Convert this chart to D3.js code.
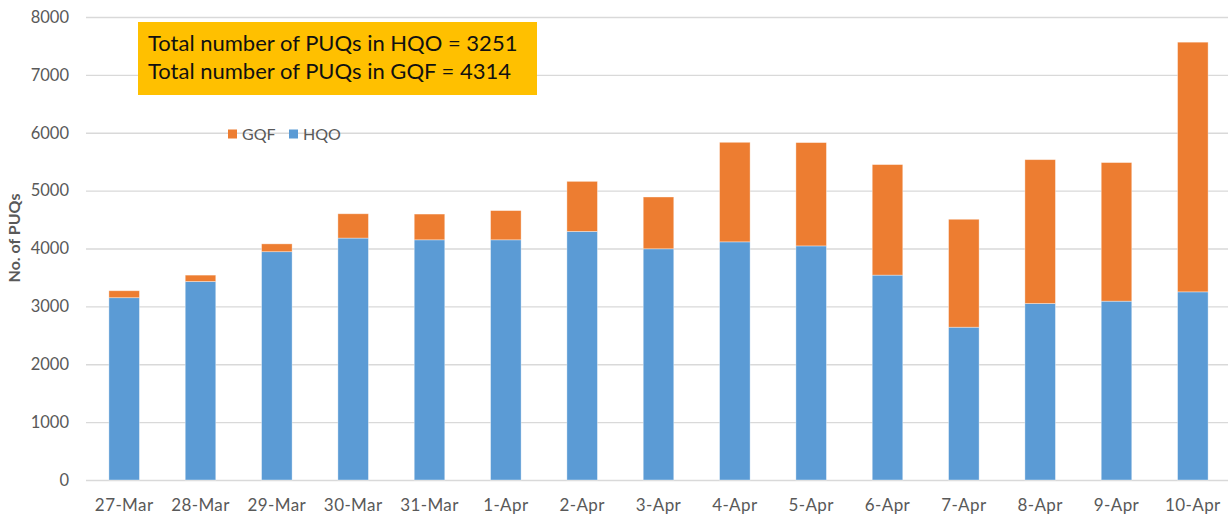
<!DOCTYPE html>
<html lang="en">

<head>
  <title></title>
  <meta charset="UTF-8">
  <style>
    body {
      margin: 0;
      background: #fff;
    }
    text {
      font-family: Lato, "Open Sans", sans-serif;
    }
  </style>
</head>

<body>
  <div id="container"></div>
  <script src="https://cdn.jsdelivr.net/npm/d3@7"></script>
  <script>
    const days = ['27-Mar', '28-Mar', '29-Mar', '30-Mar', '31-Mar', '1-Apr', '2-Apr', '3-Apr',
      '4-Apr', '5-Apr', '6-Apr', '7-Apr', '8-Apr', '9-Apr', '10-Apr'];
    const hqo = [3150, 3430, 3945, 4180, 4150, 4150, 4295, 3995, 4115, 4045, 3540, 2640, 3050, 3090, 3251];
    const total = [3270, 3540, 4080, 4600, 4595, 4655, 5160, 4890, 5835, 5830, 5450, 4505, 5535, 5485, 7565];
    const gqf = total.map((t, i) => t - hqo[i]);
    const yTicks = [0, 1000, 2000, 3000, 4000, 5000, 6000, 7000, 8000];
    const noteLines = ['Total number of PUQs in HQO = 3251', 'Total number of PUQs in GQF = 4314'];
    const seriesKeys = ['HQO', 'GQF'];
    const colors = { HQO: '#5B9BD5', GQF: '#ED7D31' };

    const size = { w: 1228, h: 517 };
    const plot = { left: 86, right: 1231, top: 17, bottom: 480 };

    const svg = d3.select('#container')
      .append('svg')
      .attr('width', size.w)
      .attr('height', size.h);

    const x = d3.scaleBand()
      .domain(days)
      .range([plot.left, plot.right])
      .paddingInner(0.6)
      .paddingOuter(0.3);

    const y = d3.scaleLinear()
      .domain([0, 8000])
      .range([plot.bottom, plot.top]);

    // gridlines
    svg.append('g')
      .selectAll('line')
      .data(yTicks)
      .join('line')
      .attr('x1', plot.left)
      .attr('x2', size.w)
      .attr('y1', d => y(d) + 0.5)
      .attr('y2', d => y(d) + 0.5)
      .attr('stroke', '#d9d9d9')
      .attr('stroke-width', 1.3);

    // y axis labels
    const yAxis = svg.append('g')
      .attr('transform', `translate(${plot.left - 17},0)`)
      .call(d3.axisLeft(y).tickValues(yTicks).tickSize(0).tickPadding(0).tickFormat(d3.format('d')));
    yAxis.select('.domain').remove();
    yAxis.selectAll('text')
      .attr('fill', '#595959')
      .style('font-size', '16.5px');

    // x axis labels
    const xAxis = svg.append('g')
      .attr('transform', `translate(0,${plot.bottom})`)
      .call(d3.axisBottom(x).tickSize(0).tickPadding(19));
    xAxis.select('.domain').remove();
    xAxis.selectAll('text')
      .attr('fill', '#595959')
      .style('font-size', '17px')
      .style('letter-spacing', '0.4px');

    // stacked bars
    const rows = days.map((d, i) => ({ day: d, HQO: hqo[i], GQF: gqf[i] }));
    const stack = d3.stack().keys(seriesKeys)(rows);

    svg.append('g')
      .selectAll('g')
      .data(stack)
      .join('g')
      .attr('fill', d => colors[d.key])
      .selectAll('rect')
      .data(d => d)
      .join('rect')
      .attr('x', d => x(d.data.day))
      .attr('width', x.bandwidth())
      .attr('y', d => y(d[1]))
      .attr('height', d => y(d[0]) - y(d[1]))
      .attr('stroke', 'rgba(255,255,255,0.45)')
      .attr('stroke-width', 0.8);

    // y title
    svg.append('text')
      .attr('transform', `translate(20,238) rotate(-90)`)
      .attr('text-anchor', 'middle')
      .attr('fill', '#595959')
      .style('font-size', '16px')
      .style('font-weight', 'bold')
      .text('No. of PUQs');

    // note box
    const note = svg.append('g').attr('transform', 'translate(138,22)');
    note.append('rect')
      .attr('width', 399)
      .attr('height', 73)
      .attr('fill', '#FFC000');
    note.selectAll('text')
      .data(noteLines)
      .join('text')
      .attr('x', 10)
      .attr('y', (d, i) => 29 + i * 28)
      .attr('fill', '#111')
      .style('font-size', '22px')
      .text(d => d);

    // legend
    const legendItems = ['GQF', 'HQO'];
    const legend = svg.append('g').attr('transform', 'translate(228,134)');
    const li = legend.selectAll('g')
      .data(legendItems)
      .join('g')
      .attr('transform', (d, i) => `translate(${i * 61},0)`);
    li.append('rect')
      .attr('x', 0)
      .attr('y', -4.5)
      .attr('width', 9)
      .attr('height', 9)
      .attr('fill', d => colors[d]);
    li.append('text')
      .attr('x', 14)
      .attr('y', 6)
      .attr('fill', '#595959')
      .style('font-size', '16px')
      .text(d => d);
  </script>
</body>

</html>
